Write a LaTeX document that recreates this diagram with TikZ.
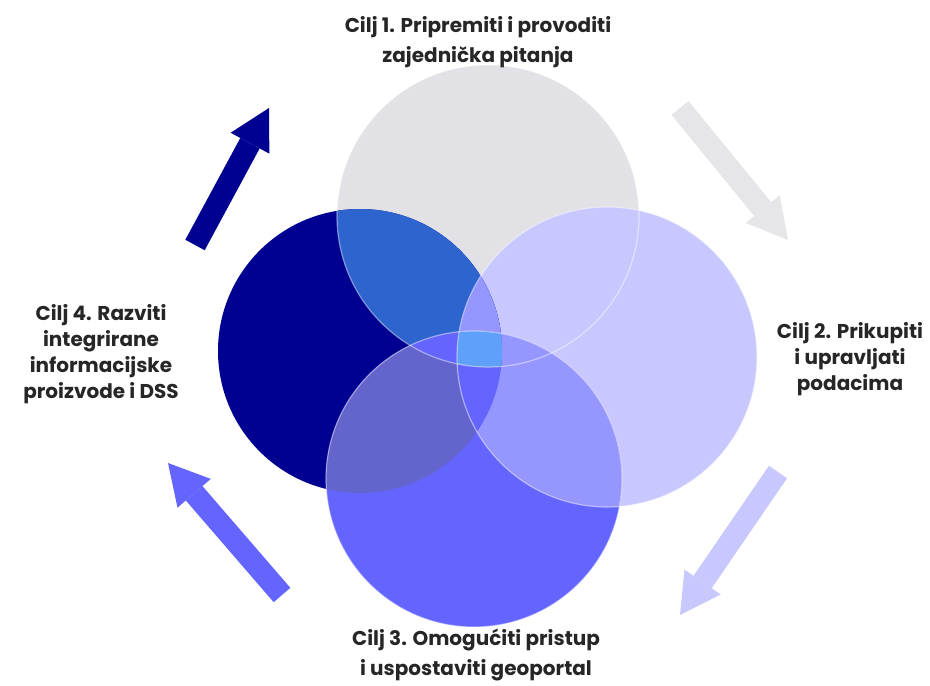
\documentclass[tikz,border=0pt]{standalone}
\usepackage{fontspec}
\setmainfont{Poppins}
\usetikzlibrary{arrows.meta}
\definecolor{sivo}{RGB}{225,225,230}
\definecolor{lila}{RGB}{200,200,255}
\definecolor{plava}{RGB}{100,100,255}
\definecolor{tamna}{RGB}{0,0,145}
\definecolor{p14}{RGB}{45,100,205}
\definecolor{p124}{RGB}{150,150,255}
\definecolor{p34}{RGB}{100,100,205}
\definecolor{psve}{RGB}{95,160,250}
\definecolor{strelsiva}{RGB}{230,230,232}
\tikzset{
  cilj/.style={align=center,text=black!85,font=\bfseries\fontsize{20}{26}\selectfont},
  ciljvod/.style={cilj,font=\bfseries\fontsize{20}{30}\selectfont},
  blok/.style={line width=22pt,-{Triangle[length=40pt,width=44pt,line width=0pt]}},
  obrub/.style={draw=white,draw opacity=0.45,line width=1.2pt}
}
\begin{document}
\begin{tikzpicture}[x=1pt,y=-1pt]
                \useasboundingbox (0,0) rectangle (930,686);
                \coordinate (c1) at (488,216);
                \coordinate (c2) at (607,357);
                \coordinate (c3) at (474,479);
                \coordinate (c4) at (360,351);
                % krugovi
                \fill[sivo] (c1) circle[radius=151];
                \fill[lila] (c2) circle[radius=150];
                \fill[tamna] (c4) circle[radius=142];
                \begin{scope}
                  \clip (c4) circle[radius=142];
                  \fill[p14] (c1) circle[radius=151];
                  \clip (c2) circle[radius=150];
                  \fill[p124] (c1) circle[radius=151];
                \end{scope}
                \fill[plava] (c3) circle[radius=148];
                \begin{scope}
                  \clip (c3) circle[radius=148];
                  \fill[p34] (c4) circle[radius=142];
                  \fill[p124] (c2) circle[radius=150];
                  \clip (c4) circle[radius=142];
                  \fill[plava] (c1) circle[radius=151];
                  \fill[plava] (c2) circle[radius=150];
                  \clip (c2) circle[radius=150];
                  \fill[psve] (c1) circle[radius=151];
                \end{scope}
                \draw[obrub] (c1) circle[radius=151];
                \draw[obrub] (c2) circle[radius=150];
                \draw[obrub] (c3) circle[radius=148];
                % strelice
                \coordinate (s1a) at (680,108);
                \coordinate (s1b) at (788,240);
                \coordinate (s2a) at (778,472);
                \coordinate (s2b) at (680,615);
                \coordinate (s3a) at (282,595);
                \coordinate (s3b) at (168,463);
                \coordinate (s4a) at (195,245);
                \coordinate (s4b) at (269,108);
                \draw[blok,strelsiva] (s1a) -- (s1b);
                \draw[blok,lila] (s2a) -- (s2b);
                \draw[blok,plava] (s3a) -- (s3b);
                \draw[blok,tamna] (s4a) -- (s4b);
                % tekst
                \node[ciljvod] (t1) at (478,42) {Cilj 1. Pripremiti i provoditi\\zajednička pitanja};
                \node[cilj] (t2) at (850,359) {Cilj 2. Prikupiti\\i upravljati\\podacima};
                \node[ciljvod] (t3) at (476,655) {Cilj 3. Omogućiti pristup\\i uspostaviti geoportal};
                \node[cilj] (t4) at (101,354) {Cilj 4. Razviti\\integrirane\\informacijske\\proizvode i DSS};
            \end{tikzpicture}
\end{document}
